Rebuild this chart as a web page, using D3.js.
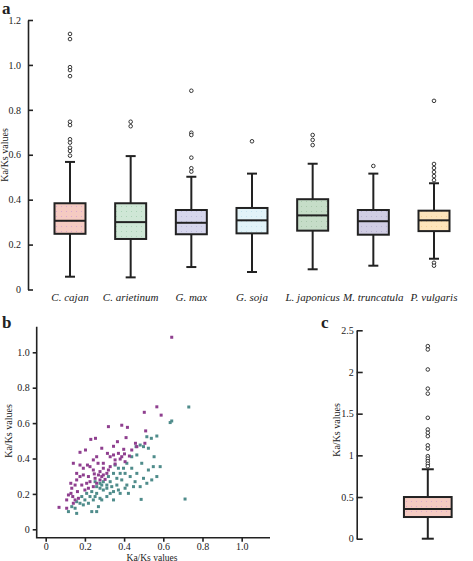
<!DOCTYPE html>
<html><head><meta charset="utf-8">
<script src="https://cdn.jsdelivr.net/npm/d3@7"></script>
<style>
body{margin:0;background:#fff;}
svg text{font-family:"Liberation Serif","Times New Roman",Times,serif;fill:#222;}
</style></head>
<body><svg id="c" width="473" height="561"></svg>
<script>
// ---------- Panel a data ----------
const species = ["C. cajan","C. arietinum","G. max","G. soja","L. japonicus","M. truncatula","P. vulgaris"];
const whiskerLow  = [0.057,0.054,0.100,0.078,0.090,0.106,0.137];
const q1          = [0.248,0.225,0.246,0.250,0.262,0.244,0.260];
const median      = [0.306,0.300,0.297,0.308,0.330,0.304,0.308];
const q3          = [0.384,0.384,0.354,0.363,0.402,0.354,0.351];
const whiskerHigh = [0.568,0.594,0.502,0.516,0.560,0.516,0.473];
const outliersA = [
  [1.138,1.115,0.99,0.977,0.95,0.747,0.732,0.669,0.654,0.631,0.617,0.596],
  [0.747,0.727],
  [0.885,0.698,0.688,0.587,0.54,0.525],
  [0.66],
  [0.688,0.666,0.643],
  [0.55],
  [0.84,0.559,0.541,0.523,0.505,0.487,0.119,0.106]
];
const ticksA = [0,0.2,0.4,0.6,0.8,1.0,1.2];
const tickLabelsA = ["0","0.2","0.4","0.6","0.8","1.0","1.2"];

// ---------- Panel b data (x, y) ----------
const purpleX = [0.643,0.567,0.589,0.503,0.32,0.388,0.417,0.51,0.41,0.366,0.346,0.458,0.506,0.254,0.23,0.203,0.175,0.286,0.315,0.346,0.398,0.402,0.427,0.38,0.405,0.354,0.329,0.267,0.213,0.175,0.141,0.158,0.192,0.243,0.277,0.312,0.286,0.252,0.226,0.26,0.277,0.303,0.209,0.184,0.15,0.128,0.2,0.218,0.162,0.129,0.116,0.138,0.107,0.141,0.068,0.107,0.226,0.294,0.329,0.371,0.388,0.26,0.243,0.192,0.294,0.32,0.269,0.248,0.294,0.354,0.439,0.465,0.158,0.175,0.243,0.218,0.133,0.167,0.15];
const purpleY = [1.085,0.692,0.645,0.661,0.58,0.588,0.576,0.556,0.518,0.495,0.469,0.486,0.486,0.514,0.508,0.448,0.435,0.458,0.429,0.42,0.452,0.426,0.414,0.397,0.382,0.369,0.354,0.373,0.363,0.363,0.373,0.316,0.307,0.335,0.326,0.316,0.298,0.288,0.269,0.26,0.279,0.282,0.26,0.25,0.25,0.26,0.222,0.232,0.213,0.203,0.194,0.185,0.166,0.147,0.124,0.119,0.354,0.373,0.41,0.429,0.41,0.41,0.392,0.345,0.345,0.335,0.307,0.313,0.307,0.392,0.448,0.467,0.279,0.298,0.241,0.298,0.232,0.175,0.166];
const tealX = [0.73,0.643,0.635,0.711,0.567,0.539,0.516,0.482,0.499,0.524,0.461,0.553,0.49,0.524,0.465,0.499,0.516,0.482,0.487,0.448,0.414,0.431,0.439,0.397,0.38,0.363,0.388,0.405,0.371,0.346,0.346,0.312,0.294,0.277,0.26,0.243,0.235,0.26,0.218,0.2,0.184,0.175,0.15,0.116,0.133,0.158,0.209,0.235,0.26,0.286,0.312,0.329,0.294,0.277,0.32,0.346,0.371,0.354,0.414,0.439,0.465,0.312,0.337,0.252,0.226,0.286,0.192,0.38,0.422,0.456,0.541,0.567,0.549,0.584,0.405,0.329,0.277,0.269,0.158,0.363,0.252];
const tealY = [0.691,0.612,0.603,0.171,0.527,0.514,0.523,0.476,0.467,0.458,0.467,0.41,0.373,0.335,0.316,0.288,0.26,0.241,0.169,0.241,0.25,0.298,0.345,0.345,0.316,0.288,0.279,0.232,0.222,0.213,0.166,0.185,0.222,0.232,0.203,0.166,0.1,0.1,0.147,0.166,0.185,0.147,0.119,0.1,0.128,0.156,0.203,0.213,0.241,0.25,0.25,0.269,0.269,0.26,0.298,0.316,0.345,0.363,0.373,0.41,0.42,0.232,0.241,0.185,0.185,0.166,0.138,0.203,0.203,0.269,0.279,0.298,0.354,0.354,0.316,0.203,0.175,0.128,0.09,0.25,0.269];
const ticksB = [0,0.2,0.4,0.6,0.8,1.0];
const tickLabelsB = ["0","0.2","0.4","0.6","0.8","1.0"];

// ---------- Panel c data ----------
const statsC = {low:0, q1:0.26, median:0.356, q3:0.50, high:0.833};
const outliersC = [2.31,2.27,2.03,1.80,1.74,1.45,1.31,1.27,1.23,1.12,1.08,0.99,0.96,0.93,0.90,0.87];
const ticksC = [0,0.5,1,1.5,2,2.5];
const tickLabelsC = ["0","0.5","1","1.5","2","2.5"];

// ---------- styles ----------
const fills = ["#f5cbc2","#cfe7d6","#d6d6ec","#e2f3f8","#c6ddc8","#d0cde3","#fde4bb"];
const dots  = ["#d8a6cf","#a9d2b5","#b9b9dc","#c4e3ee","#a7c7aa","#b5b0d2","#f3cf97"];
const ink = "#222";
const serif = "'Liberation Serif','Times New Roman',Times,serif";

const svg = d3.select("#c");
const defs = svg.append("defs");
fills.forEach((f,i)=>{
  const p = defs.append("pattern").attr("id","pat"+i).attr("patternUnits","userSpaceOnUse")
    .attr("width",5).attr("height",5);
  p.append("rect").attr("width",5).attr("height",5).attr("fill",f);
  p.append("rect").attr("x",1).attr("y",1).attr("width",1).attr("height",1).attr("fill",dots[i]);
});

function styleAxis(g, fs){
  g.selectAll("path,line").attr("stroke",ink).attr("stroke-width",1.6);
  g.selectAll("text").attr("font-size",fs).attr("fill",ink).attr("font-family",serif);
}

// ================= Panel a =================
const yA = d3.scaleLinear().domain([0,1.2]).range([289.5,20]);
const xA = d3.scalePoint().domain(species).range([70,434]);
const bwA = 31, capA = 10;
const gA = svg.append("g");
const axA = gA.append("g").attr("transform","translate(28,0)")
  .call(d3.axisLeft(yA).tickValues(ticksA).tickFormat((d,i)=>tickLabelsA[i]).tickSizeInner(-5).tickSizeOuter(0).tickPadding(7));
styleAxis(axA,10);

species.forEach((s,i)=>{
  const cx = xA(s);
  const g = gA.append("g");
  g.append("line").attr("x1",cx).attr("x2",cx).attr("y1",yA(whiskerLow[i])).attr("y2",yA(q1[i])).attr("stroke",ink).attr("stroke-width",2);
  g.append("line").attr("x1",cx).attr("x2",cx).attr("y1",yA(q3[i])).attr("y2",yA(whiskerHigh[i])).attr("stroke",ink).attr("stroke-width",2);
  [whiskerLow[i],whiskerHigh[i]].forEach(v=>g.append("line").attr("x1",cx-capA/2).attr("x2",cx+capA/2).attr("y1",yA(v)).attr("y2",yA(v)).attr("stroke",ink).attr("stroke-width",2));
  g.append("rect").attr("x",cx-bwA/2).attr("y",yA(q3[i])).attr("width",bwA).attr("height",yA(q1[i])-yA(q3[i]))
    .attr("fill","url(#pat"+i+")").attr("stroke",ink).attr("stroke-width",2);
  g.append("line").attr("x1",cx-bwA/2).attr("x2",cx+bwA/2).attr("y1",yA(median[i])).attr("y2",yA(median[i])).attr("stroke",ink).attr("stroke-width",2);
  g.selectAll("circle").data(outliersA[i]).enter().append("circle")
    .attr("cx",cx).attr("cy",d=>yA(d)).attr("r",1.8).attr("fill","#fff").attr("stroke",ink).attr("stroke-width",0.9);
  gA.append("text").attr("x",cx).attr("y",301).attr("text-anchor","middle").attr("font-size",11)
    .attr("font-style","italic").attr("font-family",serif).text(s);
});
gA.append("text").attr("transform","translate(8,155) rotate(-90)").attr("text-anchor","middle").attr("font-size",10).attr("font-family",serif).text("Ka/Ks values");
svg.append("text").attr("x",2).attr("y",14).attr("font-size",17).attr("font-weight","bold").attr("font-family",serif).text("a");

// ================= Panel b =================
const xB = d3.scaleLinear().domain([0,1]).range([45.7,241.7]);
const yB = d3.scaleLinear().domain([0,1]).range([529.3,352.3]);
const gB = svg.append("g");
const axBy = gB.append("g").attr("transform","translate(36.7,0)")
  .call(d3.axisLeft(yB).tickValues(ticksB).tickFormat((d,i)=>tickLabelsB[i]).tickSize(4).tickPadding(3));
axBy.select(".domain").remove();
styleAxis(axBy,10);
const axBx = gB.append("g").attr("transform","translate(0,537.7)")
  .call(d3.axisBottom(xB).tickValues(ticksB).tickFormat((d,i)=>tickLabelsB[i]).tickSize(4).tickPadding(1));
axBx.select(".domain").remove();
styleAxis(axBx,10);
gB.append("path").attr("d","M36.7,326.7V537.7H270").attr("fill","none").attr("stroke",ink).attr("stroke-width",1.6);
gB.selectAll("rect.t").data(d3.range(tealX.length)).enter().append("rect").attr("class","t")
  .attr("x",i=>xB(tealX[i])-1.5).attr("y",i=>yB(tealY[i])-1.5).attr("width",3).attr("height",3).attr("fill","#4f8c8b");
gB.selectAll("rect.p").data(d3.range(purpleX.length)).enter().append("rect").attr("class","p")
  .attr("x",i=>xB(purpleX[i])-1.5).attr("y",i=>yB(purpleY[i])-1.5).attr("width",3).attr("height",3).attr("fill","#8f3f8f");
gB.append("text").attr("transform","translate(12,431) rotate(-90)").attr("text-anchor","middle").attr("font-size",10).attr("font-family",serif).text("Ka/Ks values");
gB.append("text").attr("x",152).attr("y",560.5).attr("text-anchor","middle").attr("font-size",9.5).attr("font-family",serif).text("Ka/Ks values");
svg.append("text").attr("x",2).attr("y",328).attr("font-size",17).attr("font-weight","bold").attr("font-family",serif).text("b");

// ================= Panel c =================
const yC = d3.scaleLinear().domain([0,2.5]).range([538.7,330.3]);
const cxC = 427.8, bwC = 47.7, capC = 12;
const gC = svg.append("g");
const axC = gC.append("g").attr("transform","translate(356.7,0)")
  .call(d3.axisLeft(yC).tickValues(ticksC).tickFormat((d,i)=>tickLabelsC[i]).tickSizeInner(-6).tickSizeOuter(0).tickPadding(3));
styleAxis(axC,10);
gC.append("line").attr("x1",cxC).attr("x2",cxC).attr("y1",yC(statsC.low)).attr("y2",yC(statsC.q1)).attr("stroke",ink).attr("stroke-width",2);
gC.append("line").attr("x1",cxC).attr("x2",cxC).attr("y1",yC(statsC.q3)).attr("y2",yC(statsC.high)).attr("stroke",ink).attr("stroke-width",2);
[statsC.low,statsC.high].forEach(v=>gC.append("line").attr("x1",cxC-capC/2).attr("x2",cxC+capC/2).attr("y1",yC(v)).attr("y2",yC(v)).attr("stroke",ink).attr("stroke-width",2));
gC.append("rect").attr("x",cxC-bwC/2).attr("y",yC(statsC.q3)).attr("width",bwC).attr("height",yC(statsC.q1)-yC(statsC.q3))
  .attr("fill","url(#pat0)").attr("stroke",ink).attr("stroke-width",2);
gC.append("line").attr("x1",cxC-bwC/2).attr("x2",cxC+bwC/2).attr("y1",yC(statsC.median)).attr("y2",yC(statsC.median)).attr("stroke",ink).attr("stroke-width",2);
gC.selectAll("circle").data(outliersC).enter().append("circle")
  .attr("cx",cxC).attr("cy",d=>yC(d)).attr("r",1.8).attr("fill","#fff").attr("stroke",ink).attr("stroke-width",0.9);
gC.append("text").attr("transform","translate(340,430) rotate(-90)").attr("text-anchor","middle").attr("font-size",10).attr("font-family",serif).text("Ka/Ks values");
svg.append("text").attr("x",321).attr("y",328).attr("font-size",17).attr("font-weight","bold").attr("font-family",serif).text("c");
</script></body></html>
